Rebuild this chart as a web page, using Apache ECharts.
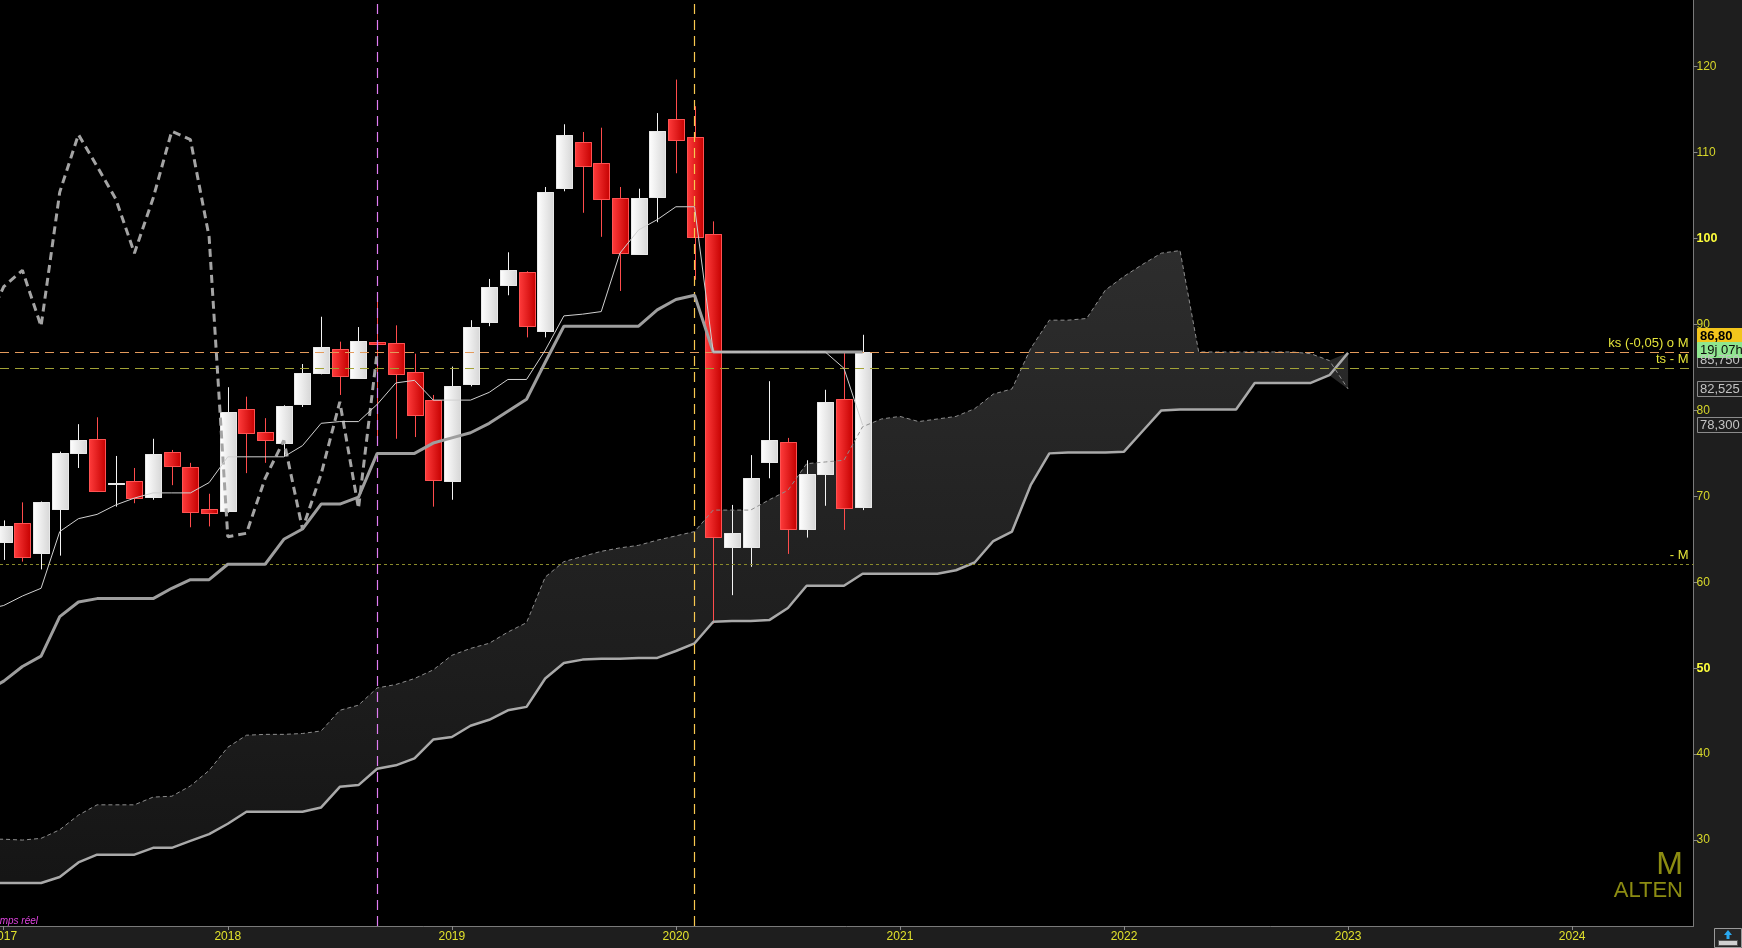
<!DOCTYPE html>
<html>
<head>
<meta charset="utf-8">
<title>ALTEN - M</title>
<script src="https://cdn.jsdelivr.net/npm/echarts@6/dist/echarts.min.js"></script>
<style>
    html, body { margin: 0; padding: 0; background: #1e1e1e; }
    #chart { width: 1742px; height: 948px; }
</style>
</head>
<body>
<div id="chart"></div>
<script>
// monthly candles, index 0 = Jan 2017
const months = [
    '2017-01', '2017-02', '2017-03', '2017-04', '2017-05', '2017-06', '2017-07', '2017-08', '2017-09', '2017-10', '2017-11', '2017-12',
    '2018-01', '2018-02', '2018-03', '2018-04', '2018-05', '2018-06', '2018-07', '2018-08', '2018-09', '2018-10', '2018-11', '2018-12',
    '2019-01', '2019-02', '2019-03', '2019-04', '2019-05', '2019-06', '2019-07', '2019-08', '2019-09', '2019-10', '2019-11', '2019-12',
    '2020-01', '2020-02', '2020-03', '2020-04', '2020-05', '2020-06', '2020-07', '2020-08', '2020-09', '2020-10', '2020-11'
];
const open = [
    64.7, 66.9, 63.4, 68.5, 75.0, 76.7, 71.4, 71.8, 69.9, 75.2, 73.4, 68.5,
    68.3, 80.2, 77.5, 76.2, 80.7, 84.4, 87.1, 83.8, 88.0, 87.8, 84.5, 81.2,
    71.8, 83.1, 90.3, 94.6, 96.1, 89.2, 105.9, 111.2, 108.8, 104.7, 98.2, 104.8,
    113.9, 111.8, 100.5, 64.1, 64.1, 74.0, 76.3, 66.2, 72.6, 81.3, 68.8
];
const close = [
    66.5, 62.9, 69.3, 75.0, 76.5, 70.6, 71.5, 69.8, 74.9, 73.5, 68.2, 68.1,
    79.8, 77.4, 76.6, 80.5, 84.4, 87.4, 84.0, 88.1, 87.7, 84.2, 79.5, 71.9,
    82.8, 89.7, 94.4, 96.3, 89.8, 105.4, 112.1, 108.4, 104.6, 98.3, 104.7, 112.5,
    111.5, 100.2, 65.3, 65.7, 72.1, 76.5, 66.2, 72.6, 81.0, 68.6, 86.8
];
const low = [
    62.6, 62.4, 61.5, 63.1, 73.3, 70.5, 68.8, 69.2, 69.6, 71.3, 66.4, 66.5,
    68.1, 72.7, 73.9, 74.7, 80.4, 84.2, 81.8, 83.7, 76.6, 76.7, 76.9, 68.8,
    69.6, 82.8, 89.8, 93.4, 88.5, 88.5, 105.5, 103.0, 100.2, 93.9, 98.1, 101.9,
    107.6, 95.2, 55.2, 58.5, 61.8, 72.1, 63.3, 65.2, 68.9, 66.1, 68.4
];
const high = [
    67.2, 69.3, 69.4, 75.2, 78.4, 79.2, 74.7, 73.3, 76.7, 75.4, 73.9, 70.3,
    82.7, 81.6, 79.1, 80.6, 85.4, 90.9, 88.0, 89.7, 93.4, 89.9, 86.6, 81.8,
    85.1, 90.5, 95.3, 98.4, 96.2, 106.0, 113.3, 112.4, 112.9, 106.0, 105.8, 114.6,
    118.5, 115.4, 102.0, 69.0, 74.8, 83.4, 76.8, 74.2, 82.4, 86.8, 88.8
];

// ichimoku, first value = Dec 2016 (index -1)
const tenkan = [
    56.8,
    57.3, 58.4, 59.3, 65.9, 67.4, 67.9, 69.0, 69.8, 70.4, 70.4, 70.4, 71.6,
    74.6, 74.6, 74.6, 74.6, 75.9, 78.5, 78.7, 78.7, 80.7, 83.2, 83.5, 81.2,
    81.2, 81.2, 82.1, 83.6, 83.6, 87.0, 91.0, 91.2, 91.5, 98.3, 101.0, 102.2,
    103.7, 103.7, 86.8, 86.8, 86.8, 86.8, 86.8, 86.8, 86.8, 84.9, 78.3
];
const kijun = [
    47.2,
    48.5, 50.2, 51.4, 56.0, 57.7, 58.1, 58.1, 58.1, 58.1, 59.3, 60.3, 60.3,
    62.1, 62.1, 62.1, 65.0, 66.2, 69.1, 69.1, 69.9, 75.0, 75.0, 75.0, 76.2,
    76.8, 77.4, 78.5, 79.9, 81.3, 85.6, 89.8, 89.8, 89.8, 89.8, 89.8, 91.7,
    92.9, 93.4, 86.8, 86.8, 86.8, 86.8, 86.8, 86.8, 86.8, 86.8, 86.8
];
// leading spans, Dec 2016 -> Jan 2023
const senkouA = [
    30.1,
    30.1, 30.0, 30.2, 31.2, 32.9, 34.1, 34.1, 34.1, 35.0, 35.1, 36.3, 38.1,
    40.8, 42.2, 42.3, 42.3, 42.4, 42.7, 45.1, 45.7, 47.7, 48.1, 48.8, 49.8,
    51.5, 52.3, 52.9, 54.2, 55.3, 60.6, 62.4, 63.0, 63.6, 64.0, 64.3, 64.9,
    65.4, 65.9, 68.4, 68.4, 68.4, 69.6, 70.7, 73.8, 74.0, 74.2, 78.1, 79.0,
    79.3, 78.7, 79.0, 79.3, 80.2, 81.9, 82.5, 87.2, 90.5, 90.5, 90.7, 94.0,
    95.6, 97.0, 98.3, 98.6, 86.8, 86.8, 86.8, 86.8, 86.8, 86.8, 86.6, 85.8,
    82.5
];
const senkouB = [
    25.0,
    25.0, 25.0, 25.0, 25.7, 27.4, 28.3, 28.3, 28.3, 29.1, 29.1, 29.9, 30.7,
    31.9, 33.3, 33.3, 33.3, 33.3, 33.8, 36.2, 36.4, 38.3, 38.7, 39.5, 41.7,
    42.0, 43.3, 44.0, 45.1, 45.5, 48.8, 50.6, 51.0, 51.1, 51.1, 51.2, 51.2,
    52.0, 52.9, 55.4, 55.5, 55.5, 55.6, 57.0, 59.6, 59.6, 59.6, 61.0, 61.0,
    61.0, 61.0, 61.0, 61.4, 62.3, 64.8, 65.9, 71.3, 75.0, 75.1, 75.1, 75.1,
    75.2, 77.6, 80.0, 80.1, 80.1, 80.1, 80.1, 83.2, 83.2, 83.2, 83.2, 84.1,
    86.7
];

const yearTicks = [0, 12, 24, 36, 48, 60, 72, 84];
const yearLabels = ['2017', '2018', '2019', '2020', '2021', '2022', '2023', '2024'];
const priceTicks = [30, 40, 50, 60, 70, 80, 90, 100, 110, 120];
const boldTicks = [50, 100];

// reference lines
const lastPrice = 86.8;
const tsLevel = 84.9;
const mLevel = 62.1;
const markMonths = [20, 37];   // Sep 2018, Feb 2020

const boxes = [
    { value: 86.8, shift: 8, text: '85,750', kind: 'grey' },
    { value: 86.8, shift: -16, text: '86,80', kind: 'price' },
    { value: 86.8, shift: -2, text: '19j 07h', kind: 'time' },
    { value: 82.525, shift: 0, text: '82,525', kind: 'grey' },
    { value: 78.3, shift: 0, text: '78,300', kind: 'grey' }
];

const FONT = 'Arial, "Liberation Sans", sans-serif';

const VC = function () {
    const chart = echarts.init(document.getElementById('chart'), null, { renderer: 'canvas' });

    const redGrad = new echarts.graphic.LinearGradient(0, 0, 1, 0, [
        { offset: 0, color: '#ff3c3c' }, { offset: 1, color: '#c50000' }
    ]);
    const whiteGrad = new echarts.graphic.LinearGradient(0, 0, 1, 0, [
        { offset: 0, color: '#ffffff' }, { offset: 1, color: '#d6d6d6' }
    ]);
    const cloudGrad = new echarts.graphic.LinearGradient(0, 250, 0, 880, [
        { offset: 0, color: '#2d2d2d' }, { offset: 1, color: '#151515' }
    ], true);

    const shifted = function (arr) {
        return arr.map((v, k) => [k - 1, v]);
    };

    // body + wick of one monthly candle
    const renderCandle = function (params, api) {
        let x = api.value(0);
        let o = api.value(1), c = api.value(2);
        let pO = api.coord([x, o]);
        let pC = api.coord([x, c]);
        let pL = api.coord([x, api.value(3)]);
        let pH = api.coord([x, api.value(4)]);
        let up = c >= o;
        let cx = Math.round(pO[0]) + 0.5;
        let top = Math.round(Math.min(pO[1], pC[1])) + 0.5;
        let bot = Math.round(Math.max(pO[1], pC[1])) + 0.5;
        let wick = up ? '#f4f4f4' : '#ff4c4c';
        return {
            type: 'group',
            children: [
                {
                    type: 'line',
                    shape: { x1: cx, y1: pH[1], x2: cx, y2: pL[1] },
                    style: { stroke: wick, lineWidth: 1 }
                },
                {
                    type: 'rect',
                    shape: { x: cx - 8, y: top, width: 16, height: Math.max(bot - top, 1) },
                    style: { fill: up ? whiteGrad : redGrad, stroke: up ? '#e8e8e8' : '#ff5252', lineWidth: 1 }
                }
            ]
        };
    };

    const buildOption = function () {
        let candles = months.map((m, i) => [i, open[i], close[i], low[i], high[i]]);

        // lagging span: close plotted 26 months back
        let chikou = [];
        for (let i = -1; i + 26 < close.length; i++) {
            chikou.push([i, close[i + 26]]);
        }

        // cloud: fill under the upper span, then black under the lower span
        let kumoTop = senkouA.map((a, k) => [k - 1, Math.max(a, senkouB[k])]);
        let kumoBottom = senkouA.map((a, k) => [k - 1, Math.min(a, senkouB[k])]);
        // one more step so the black cover hides the fill's right edge
        kumoBottom.push([senkouA.length - 1, kumoBottom[kumoBottom.length - 1][1]]);

        return {
            backgroundColor: '#1e1e1e',
            animation: false,
            textStyle: { fontFamily: FONT },
            grid: {
                left: 0,
                right: 48.5,
                top: 0,
                bottom: 22,
                containLabel: false,
                outerBoundsMode: 'none',
                show: true,
                backgroundColor: '#000',
                borderWidth: 0
            },
            xAxis: {
                type: 'value',
                min: -0.2,
                max: 90.5,
                splitLine: { show: false },
                axisLine: { onZero: false, lineStyle: { color: '#7a7a7a' } },
                axisTick: { customValues: yearTicks, length: 4, lineStyle: { color: '#8a8a8a' } },
                axisLabel: {
                    customValues: yearTicks,
                    formatter: v => yearLabels[yearTicks.indexOf(v)],
                    color: '#e2e22c',
                    fontSize: 12,
                    margin: 5
                }
            },
            yAxis: {
                type: 'value',
                position: 'right',
                min: 20,
                max: 127.76,
                splitLine: { show: false },
                axisLine: { show: true, onZero: false, lineStyle: { color: '#7a7a7a' } },
                axisTick: { show: true, customValues: priceTicks, length: 4, lineStyle: { color: '#8a8a8a' } },
                axisLabel: {
                    customValues: priceTicks,
                    margin: 3,
                    color: '#d6d62a',
                    fontSize: 12,
                    formatter: v => boldTicks.indexOf(v) >= 0 ? '{b|' + v + '}' : String(v),
                    rich: { b: { fontWeight: 'bold', color: '#ffff3c', fontSize: 12.5 } }
                }
            },
            series: [
                {
                    name: 'kumoTop',
                    type: 'line',
                    data: kumoTop,
                    symbol: 'none',
                    lineStyle: { width: 0 },
                    areaStyle: { color: cloudGrad, opacity: 1, origin: 'start' },
                    silent: true,
                    z: 1
                },
                {
                    name: 'kumoBottom',
                    type: 'line',
                    data: kumoBottom,
                    symbol: 'none',
                    lineStyle: { width: 0 },
                    areaStyle: { color: '#000', opacity: 1, origin: 'start' },
                    silent: true,
                    z: 2
                },
                {
                    name: 'ALTEN',
                    type: 'custom',
                    data: candles,
                    encode: { x: 0, y: [1, 2, 3, 4] },
                    renderItem: renderCandle,
                    clip: true,
                    z: 3
                },
                {
                    name: 'senkouB',
                    type: 'line',
                    data: shifted(senkouB),
                    symbol: 'none',
                    lineStyle: { color: '#a9a9a9', width: 2.5 },
                    z: 4
                },
                {
                    name: 'senkouA',
                    type: 'line',
                    data: shifted(senkouA),
                    symbol: 'none',
                    lineStyle: { color: '#8e8e8e', width: 1, type: [4, 3] },
                    z: 4
                },
                {
                    name: 'chikou',
                    type: 'line',
                    data: chikou,
                    symbol: 'none',
                    lineStyle: { color: '#a4a4a4', width: 3, type: [8, 5] },
                    z: 5
                },
                {
                    name: 'kijun',
                    type: 'line',
                    data: shifted(kijun),
                    symbol: 'none',
                    lineStyle: { color: '#9e9e9e', width: 3 },
                    z: 5
                },
                {
                    name: 'tenkan',
                    type: 'line',
                    data: shifted(tenkan),
                    symbol: 'none',
                    lineStyle: { color: '#d0d0d0', width: 1 },
                    z: 6,
                    markLine: {
                        silent: true,
                        symbol: ['none', 'none'],
                        animation: false,
                        label: {
                            position: 'insideEndTop',
                            color: '#e4e43a',
                            fontSize: 13,
                            fontFamily: FONT,
                            distance: [5, 2]
                        },
                        data: [
                            { yAxis: lastPrice, lineStyle: { color: '#e39a5c', type: [9, 6], width: 1 }, label: { formatter: 'ks (-0,05) o M' } },
                            { yAxis: tsLevel, lineStyle: { color: '#a2a236', type: [9, 6], width: 1 }, label: { formatter: 'ts - M' } },
                            { yAxis: mLevel, lineStyle: { color: '#8a8a2a', type: [3, 3], width: 1 }, label: { formatter: '- M' } },
                            { xAxis: markMonths[0], lineStyle: { color: '#e07cf2', type: [10, 6], width: 1.2 }, label: { show: false } },
                            { xAxis: markMonths[1], lineStyle: { color: '#f8c850', type: [10, 6], width: 1.2 }, label: { show: false } }
                        ]
                    }
                }
            ]
        };
    };

    const drawBoxes = function () {
        let items = [];
        boxes.forEach(b => {
            let y = chart.convertToPixel({ yAxisIndex: 0 }, b.value) + b.shift;
            let fill = '#1e1e1e', stroke = '#8c8c8c', color = '#c4c4c4', weight = 'normal';
            if (b.kind === 'price') { fill = '#f3c51c'; stroke = '#f3c51c'; color = '#000'; weight = 'bold'; }
            if (b.kind === 'time') { fill = '#8fe68f'; stroke = '#8fe68f'; color = '#0a0a0a'; }
            items.push({
                type: 'rect',
                shape: { x: 1697.5, y: Math.round(y) - 7.5, width: 46, height: 15 },
                style: { fill: fill, stroke: stroke, lineWidth: 1 },
                z: 100
            });
            items.push({
                type: 'text',
                style: {
                    text: b.text, x: 1700, y: Math.round(y),
                    fill: color,
                    font: weight + ' 13px ' + FONT,
                    textAlign: 'left', textVerticalAlign: 'middle'
                },
                z: 101
            });
        });

        // symbol / period tag
        items.push({
            type: 'text',
            style: { text: 'M', x: 1683, y: 865, fill: '#8c8c12', font: '32px ' + FONT, textAlign: 'right', textVerticalAlign: 'middle' },
            z: 50
        });
        items.push({
            type: 'text',
            style: { text: 'ALTEN', x: 1683, y: 891, fill: '#8c8c12', font: '22px ' + FONT, textAlign: 'right', textVerticalAlign: 'middle' },
            z: 50
        });
        items.push({
            type: 'text',
            style: { text: 'Temps réel', x: 38, y: 921, fill: '#e043e0', font: 'italic 10px ' + FONT, textAlign: 'right', textVerticalAlign: 'middle' },
            z: 50
        });

        // small panel button bottom-right
        items.push({
            type: 'rect',
            shape: { x: 1714.5, y: 928.5, width: 27, height: 19 },
            style: { fill: '#262626', stroke: '#9a9a9a', lineWidth: 1 },
            z: 50
        });
        items.push({
            type: 'polygon',
            shape: { points: [[1728, 930], [1732, 935], [1729.5, 935], [1729.5, 939], [1726.5, 939], [1726.5, 935], [1724, 935]] },
            style: { fill: '#29a8f0' },
            z: 51
        });
        items.push({
            type: 'rect',
            shape: { x: 1718.5, y: 940.5, width: 19, height: 5 },
            style: { fill: '#d0d0d0', stroke: '#555', lineWidth: 1 },
            z: 51
        });

        chart.setOption({ graphic: items });
    };

    const initGraph = function () {
        chart.setOption(buildOption());
        drawBoxes();
    };

    return { initGraph };
}();

VC.initGraph();
</script>
</body>
</html>
